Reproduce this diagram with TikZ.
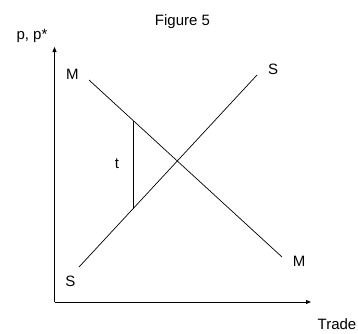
\documentclass[tikz,border=0pt]{standalone}
\usepackage{fontspec}
\setmainfont{Liberation Sans}
\usetikzlibrary{arrows.meta}
\begin{document}
\begin{tikzpicture}[x=1pt,y=-1pt,
  lbl/.style={anchor=base,inner sep=0pt,font=\fontsize{15}{18}\selectfont},
  axis/.style={line width=0.9pt,-{Triangle[length=5pt,width=4pt]}},
  curve/.style={line width=0.7pt}]
\useasboundingbox (0,0) rectangle (358,333);
\node[lbl] (title) at (182.5,25) {Figure 5};
\node[lbl] (ylab) at (32,39.3) {p, p*};
\node[lbl] (xlab) at (337,329) {Trade};
\node[lbl] (Mt) at (72.3,79.3) {M};
\node[lbl] (St) at (273,74) {S};
\node[lbl] (Mb) at (299,266.3) {M};
\node[lbl] (Sb) at (70.5,286) {S};
\node[lbl] (t) at (117,168.3) {t};
\coordinate (O) at (54.5,302);
\coordinate (Ytop) at (54.5,47);
\coordinate (Xend) at (311,302);
\coordinate (M1) at (89,80);
\coordinate (M2) at (282,257);
\coordinate (S1) at (79,267);
\coordinate (S2) at (257,75);
\coordinate (T1) at (133.3,120.5);
\coordinate (T2) at (133.3,208.5);
\draw[axis] (O) -- (Ytop);
\draw[axis] (O) -- (Xend);
\draw[curve] (M1) -- (M2);
\draw[curve] (S1) -- (S2);
\draw[line width=0.9pt] (T1) -- (T2);
\end{tikzpicture}
\end{document}
